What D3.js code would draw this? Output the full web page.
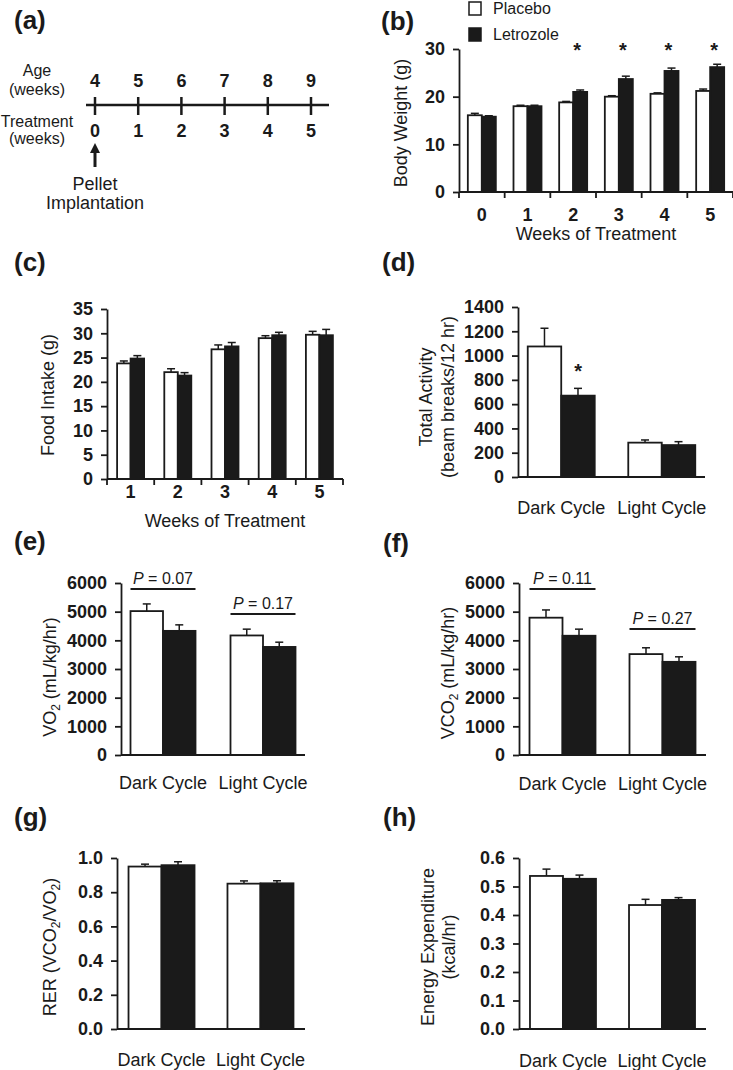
<!DOCTYPE html>
<html>
<head>
<meta charset="utf-8">
<script src="https://cdn.jsdelivr.net/npm/d3@7"></script>
<style>
  html, body { margin: 0; padding: 0; background: #fff; }
  svg { display: block; }
</style>
</head>
<body>
<svg id="chart" width="733" height="1070"></svg>
<script>
// ---------------- DATA ----------------
const legendLabels = ["Placebo", "Letrozole"];

// (a) timeline
const ageWeeks = [4, 5, 6, 7, 8, 9];
const treatmentWeeks = [0, 1, 2, 3, 4, 5];

// (b) body weight
const bwWeeks = ["0", "1", "2", "3", "4", "5"];
const bwPlacebo = [16.1, 18.0, 18.8, 20.0, 20.6, 21.2];
const bwPlaceboErr = [0.4, 0.2, 0.2, 0.2, 0.2, 0.4];
const bwLetrozole = [15.8, 18.0, 21.0, 23.7, 25.4, 26.2];
const bwLetrozoleErr = [0.2, 0.2, 0.4, 0.6, 0.6, 0.6];
const bwSignificant = ["2", "3", "4", "5"];
const bwTicks = [0, 10, 20, 30];

// (c) food intake
const fiWeeks = ["1", "2", "3", "4", "5"];
const fiPlacebo = [23.8, 22.0, 26.7, 29.0, 29.7];
const fiPlaceboErr = [0.5, 0.7, 0.9, 0.5, 0.7];
const fiLetrozole = [24.8, 21.3, 27.3, 29.6, 29.6];
const fiLetrozoleErr = [0.6, 0.6, 0.8, 0.6, 1.2];
const fiTicks = [0, 5, 10, 15, 20, 25, 30, 35];

// cycles
const cycles = ["Dark Cycle", "Light Cycle"];

// (d) total activity
const actPlacebo = [1075, 283];
const actPlaceboErr = [150, 22];
const actLetrozole = [670, 263];
const actLetrozoleErr = [60, 28];
const actSignificant = ["Dark Cycle"];
const actTicks = [0, 200, 400, 600, 800, 1000, 1200, 1400];

// (e) VO2
const vo2Placebo = [5020, 4170];
const vo2PlaceboErr = [250, 220];
const vo2Letrozole = [4330, 3770];
const vo2LetrozoleErr = [210, 165];
const vo2PValues = ["0.07", "0.17"];
const vo2Ticks = [0, 1000, 2000, 3000, 4000, 5000, 6000];

// (f) VCO2
const vco2Placebo = [4790, 3520];
const vco2PlaceboErr = [270, 220];
const vco2Letrozole = [4160, 3250];
const vco2LetrozoleErr = [230, 175];
const vco2PValues = ["0.11", "0.27"];
const vco2Ticks = [0, 1000, 2000, 3000, 4000, 5000, 6000];

// (g) RER
const rerPlacebo = [0.950, 0.850];
const rerPlaceboErr = [0.014, 0.016];
const rerLetrozole = [0.958, 0.852];
const rerLetrozoleErr = [0.020, 0.015];
const rerTicks = [0, 0.2, 0.4, 0.6, 0.8, 1.0];

// (h) energy expenditure
const eePlacebo = [0.537, 0.435];
const eePlaceboErr = [0.024, 0.020];
const eeLetrozole = [0.527, 0.453];
const eeLetrozoleErr = [0.013, 0.008];
const eeTicks = [0, 0.1, 0.2, 0.3, 0.4, 0.5, 0.6];

// ---------------- DRAWING ----------------
const FONT = "'Liberation Sans', Arial, Helvetica, sans-serif";
const INK = "#1a1a1a";
const svg = d3.select("#chart").style("font-family", FONT);

function panelLabel(txt, x, y) {
  svg.append("text").attr("x", x).attr("y", y)
    .attr("font-size", 26).attr("font-weight", "bold").attr("fill", INK)
    .text(txt);
}

// panel (a) timeline
(function () {
  panelLabel("(a)", 14, 29);
  const g = svg.append("g");
  const x = d3.scaleLinear().domain([0, 5]).range([95, 311]);
  const lineY = 105;
  g.append("line").attr("x1", 86).attr("x2", 329).attr("y1", lineY).attr("y2", lineY)
    .attr("stroke", INK).attr("stroke-width", 2.5);
  g.selectAll(".tk").data(treatmentWeeks).join("line")
    .attr("x1", d => x(d)).attr("x2", d => x(d))
    .attr("y1", lineY - 8).attr("y2", lineY + 10)
    .attr("stroke", INK).attr("stroke-width", 2.5);
  g.selectAll(".age").data(ageWeeks).join("text")
    .attr("x", (d, i) => x(treatmentWeeks[i])).attr("y", 87)
    .attr("text-anchor", "middle").attr("font-size", 18).attr("font-weight", "bold")
    .attr("fill", INK).text(d => d);
  g.selectAll(".trt").data(treatmentWeeks).join("text")
    .attr("x", d => x(d)).attr("y", 137)
    .attr("text-anchor", "middle").attr("font-size", 18).attr("font-weight", "bold")
    .attr("fill", INK).text(d => d);
  const left = [["Age", 76], ["(weeks)", 95], ["Treatment", 127], ["(weeks)", 144]];
  left.forEach(([t, y]) => {
    g.append("text").attr("x", 37).attr("y", y).attr("text-anchor", "middle")
      .attr("font-size", 16).attr("fill", INK).text(t);
  });
  // arrow
  const ax = x(0);
  g.append("line").attr("x1", ax).attr("x2", ax).attr("y1", 167).attr("y2", 151)
    .attr("stroke", INK).attr("stroke-width", 3);
  g.append("path").attr("d", `M${ax - 5},${153} L${ax},${143} L${ax + 5},${153} Z`)
    .attr("fill", INK);
  g.append("text").attr("x", ax).attr("y", 190).attr("text-anchor", "middle")
    .attr("font-size", 18).attr("fill", INK).text("Pellet");
  g.append("text").attr("x", ax).attr("y", 209).attr("text-anchor", "middle")
    .attr("font-size", 18).attr("fill", INK).text("Implantation");
})();

// generic bar chart
function barChart(cfg) {
  const g = svg.append("g");
  const y = d3.scaleLinear().domain([0, cfg.yMax]).range([cfg.y0, cfg.yTop]);
  let xc, barW;
  if (cfg.band) {
    const xb = d3.scaleBand().domain(cfg.categories).range([cfg.x0, cfg.x1]).padding(0);
    xc = d => xb(d) + xb.bandwidth() / 2;
    barW = cfg.barW;
    const bounds = cfg.categories.map(d => xb(d)).concat([cfg.x1]);
    g.selectAll(".xb").data(bounds).join("line")
      .attr("x1", d => d).attr("x2", d => d)
      .attr("y1", cfg.y0).attr("y2", cfg.y0 + 6)
      .attr("stroke", INK).attr("stroke-width", 1.8);
  } else {
    const xp = d3.scalePoint().domain(cfg.categories).range([cfg.x0, cfg.x1]).padding(cfg.pad);
    xc = d => xp(d);
    barW = cfg.barW;
  }
  const series = [
    { vals: cfg.placebo, errs: cfg.placeboErr, fill: "#ffffff", off: -1 },
    { vals: cfg.letrozole, errs: cfg.letrozoleErr, fill: INK, off: 0 }
  ];
  series.forEach(s => {
    const data = cfg.categories.map((c, i) => ({ c, v: s.vals[i], e: s.errs[i] }));
    const eg = g.append("g");
    eg.selectAll("line.v").data(data).join("line")
      .attr("x1", d => xc(d.c) + s.off * barW + barW / 2)
      .attr("x2", d => xc(d.c) + s.off * barW + barW / 2)
      .attr("y1", d => y(d.v)).attr("y2", d => y(d.v + d.e))
      .attr("stroke", INK).attr("stroke-width", 1.5);
    eg.selectAll("line.h").data(data).join("line")
      .attr("x1", d => xc(d.c) + s.off * barW + barW / 2 - 4)
      .attr("x2", d => xc(d.c) + s.off * barW + barW / 2 + 4)
      .attr("y1", d => y(d.v + d.e)).attr("y2", d => y(d.v + d.e))
      .attr("stroke", INK).attr("stroke-width", 1.5);
    g.append("g").selectAll("rect").data(data).join("rect")
      .attr("x", d => xc(d.c) + s.off * barW)
      .attr("width", barW)
      .attr("y", d => y(d.v))
      .attr("height", d => cfg.y0 - y(d.v))
      .attr("fill", s.fill).attr("stroke", INK).attr("stroke-width", 1.8);
  });
  // y axis
  const ya = d3.axisLeft(y).tickValues(cfg.ticks).tickFormat(cfg.fmt || (d => d))
    .tickSize(6).tickSizeOuter(0).tickPadding(8);
  const yg = g.append("g").attr("transform", `translate(${cfg.x0},0)`).call(ya);
  yg.select(".domain").attr("stroke", INK).attr("stroke-width", 1.8);
  yg.selectAll(".tick line").attr("stroke", INK).attr("stroke-width", 1.8);
  yg.selectAll(".tick text").attr("font-family", FONT).attr("font-size", 18)
    .attr("font-weight", "bold").attr("fill", INK);
  // x axis line
  g.append("line").attr("x1", cfg.x0).attr("x2", cfg.x1).attr("y1", cfg.y0).attr("y2", cfg.y0)
    .attr("stroke", INK).attr("stroke-width", 1.8);
  // x labels
  g.selectAll(".xl").data(cfg.categories).join("text")
    .attr("x", d => xc(d)).attr("y", cfg.xLabelY)
    .attr("text-anchor", "middle").attr("font-size", 18)
    .attr("font-weight", cfg.band ? "bold" : "normal").attr("fill", INK)
    .text(d => d);
  if (cfg.xTitle) {
    g.append("text").attr("x", (cfg.x0 + cfg.x1) / 2 + (cfg.xTitleDx || 0)).attr("y", cfg.xTitleY)
      .attr("text-anchor", "middle").attr("font-size", 18).attr("fill", INK).text(cfg.xTitle);
  }
  cfg.yTitle(g);
  if (cfg.sig) {
    g.selectAll(".sig").data(cfg.sig).join("text")
      .attr("x", d => xc(d) + cfg.sigDx)
      .attr("y", cfg.sigFixedY)
      .attr("text-anchor", "middle").attr("font-size", 20).attr("font-weight", "bold")
      .attr("fill", INK).text("*");
  }
  if (cfg.pvals) {
    cfg.pvals.forEach((p, i) => {
      const c = cfg.categories[i];
      const ly = cfg.pLineY[i];
      g.append("line").attr("x1", xc(c) - barW).attr("x2", xc(c) + barW)
        .attr("y1", ly).attr("y2", ly).attr("stroke", INK).attr("stroke-width", 1.8);
      const t = g.append("text").attr("x", xc(c)).attr("y", ly - 5)
        .attr("text-anchor", "middle").attr("font-size", 16).attr("fill", INK);
      t.append("tspan").attr("font-style", "italic").text("P");
      t.append("tspan").text(" = " + p);
    });
  }
  return { y, xc };
}

function rotTitle(g, cx, cy, lines) {
  lines.forEach(l => {
    const t = g.append("text")
      .attr("transform", `translate(${l.x},${cy}) rotate(-90)`)
      .attr("text-anchor", "middle").attr("dy", "0.35em")
      .attr("font-size", 18).attr("fill", INK);
    let afterSub = false;
    l.parts.forEach(([txt, sub]) => {
      if (sub) {
        t.append("tspan").attr("font-size", 12).attr("dy", 4).text(txt);
      } else {
        const ts = t.append("tspan").text(txt);
        if (afterSub) ts.attr("dy", -4);
      }
      afterSub = !!sub;
    });
  });
}

// legend
(function () {
  const items = [
    { label: legendLabels[0], fill: "#fff", y: 2 },
    { label: legendLabels[1], fill: INK, y: 28 }
  ];
  const lg = svg.append("g");
  lg.selectAll("rect").data(items).join("rect")
    .attr("x", 469).attr("y", d => d.y).attr("width", 12).attr("height", 13)
    .attr("fill", d => d.fill).attr("stroke", INK).attr("stroke-width", 1.5);
  lg.selectAll("text").data(items).join("text")
    .attr("x", 493).attr("y", d => d.y + 12).attr("font-size", 16).attr("fill", INK)
    .text(d => d.label);
})();

// (b)
panelLabel("(b)", 381, 30);
barChart({
  categories: bwWeeks, placebo: bwPlacebo, placeboErr: bwPlaceboErr,
  letrozole: bwLetrozole, letrozoleErr: bwLetrozoleErr,
  x0: 459, x1: 733, y0: 192, yTop: 49, yMax: 30, ticks: bwTicks,
  band: true, barW: 14, xLabelY: 221, xTitle: "Weeks of Treatment", xTitleY: 240,
  sig: bwSignificant, sigDx: 4, sigFixedY: 57,
  yTitle: g => rotTitle(g, 0, 123, [{ x: 401, parts: [["Body Weight (g)"]] }])
});

// (c)
panelLabel("(c)", 14, 271);
barChart({
  categories: fiWeeks, placebo: fiPlacebo, placeboErr: fiPlaceboErr,
  letrozole: fiLetrozole, letrozoleErr: fiLetrozoleErr,
  x0: 107, x1: 343, y0: 479, yTop: 309, yMax: 35, ticks: fiTicks,
  band: true, barW: 13.5, xLabelY: 498, xTitle: "Weeks of Treatment", xTitleY: 527,
  yTitle: g => rotTitle(g, 0, 395, [{ x: 48, parts: [["Food Intake (g)"]] }])
});

// (d)
panelLabel("(d)", 382, 271);
barChart({
  categories: cycles, placebo: actPlacebo, placeboErr: actPlaceboErr,
  letrozole: actLetrozole, letrozoleErr: actLetrozoleErr,
  x0: 518, x1: 705, y0: 477, yTop: 307, yMax: 1400, ticks: actTicks,
  band: false, pad: 0.43, barW: 33.5, xLabelY: 514,
  sig: actSignificant, sigDx: 17, sigFixedY: 378,
  yTitle: g => rotTitle(g, 0, 397, [
    { x: 426, parts: [["Total Activity"]] },
    { x: 448, parts: [["(beam breaks/12 hr)"]] }
  ])
});

// (e)
panelLabel("(e)", 14, 550);
barChart({
  categories: cycles, placebo: vo2Placebo, placeboErr: vo2PlaceboErr,
  letrozole: vo2Letrozole, letrozoleErr: vo2LetrozoleErr,
  x0: 121, x1: 305, y0: 755, yTop: 583, yMax: 6000, ticks: vo2Ticks,
  band: false, pad: 0.42, barW: 32.5, xLabelY: 789,
  pvals: vo2PValues, pLineY: [589, 614],
  yTitle: g => rotTitle(g, 0, 677, [
    { x: 50, parts: [["VO"], ["2", true], [" (mL/kg/hr)"]] }
  ])
});

// (f)
panelLabel("(f)", 383, 552);
barChart({
  categories: cycles, placebo: vco2Placebo, placeboErr: vco2PlaceboErr,
  letrozole: vco2Letrozole, letrozoleErr: vco2LetrozoleErr,
  x0: 519, x1: 706, y0: 755, yTop: 583, yMax: 6000, ticks: vco2Ticks,
  band: false, pad: 0.435, barW: 33, xLabelY: 790,
  pvals: vco2PValues, pLineY: [589, 629],
  yTitle: g => rotTitle(g, 0, 673, [
    { x: 448, parts: [["VCO"], ["2", true], ["  (mL/kg/hr)"]] }
  ])
});

// (g)
panelLabel("(g)", 14, 826);
barChart({
  categories: cycles, placebo: rerPlacebo, placeboErr: rerPlaceboErr,
  letrozole: rerLetrozole, letrozoleErr: rerLetrozoleErr,
  x0: 117, x1: 305, y0: 1029, yTop: 858, yMax: 1.0, ticks: rerTicks, fmt: d3.format(".1f"),
  band: false, pad: 0.45, barW: 33, xLabelY: 1066,
  yTitle: g => rotTitle(g, 0, 947, [
    { x: 50, parts: [["RER (VCO"], ["2", true], ["/VO"], ["2", true], [")"]] }
  ])
});

// (h)
panelLabel("(h)", 383, 826);
barChart({
  categories: cycles, placebo: eePlacebo, placeboErr: eePlaceboErr,
  letrozole: eeLetrozole, letrozoleErr: eeLetrozoleErr,
  x0: 519, x1: 706, y0: 1029, yTop: 858, yMax: 0.6, ticks: eeTicks, fmt: d3.format(".1f"),
  band: false, pad: 0.444, barW: 33, xLabelY: 1067,
  yTitle: g => rotTitle(g, 0, 947, [
    { x: 428, parts: [["Energy Expenditure"]] },
    { x: 449, parts: [["(kcal/hr)"]] }
  ])
});
</script>
</body>
</html>
